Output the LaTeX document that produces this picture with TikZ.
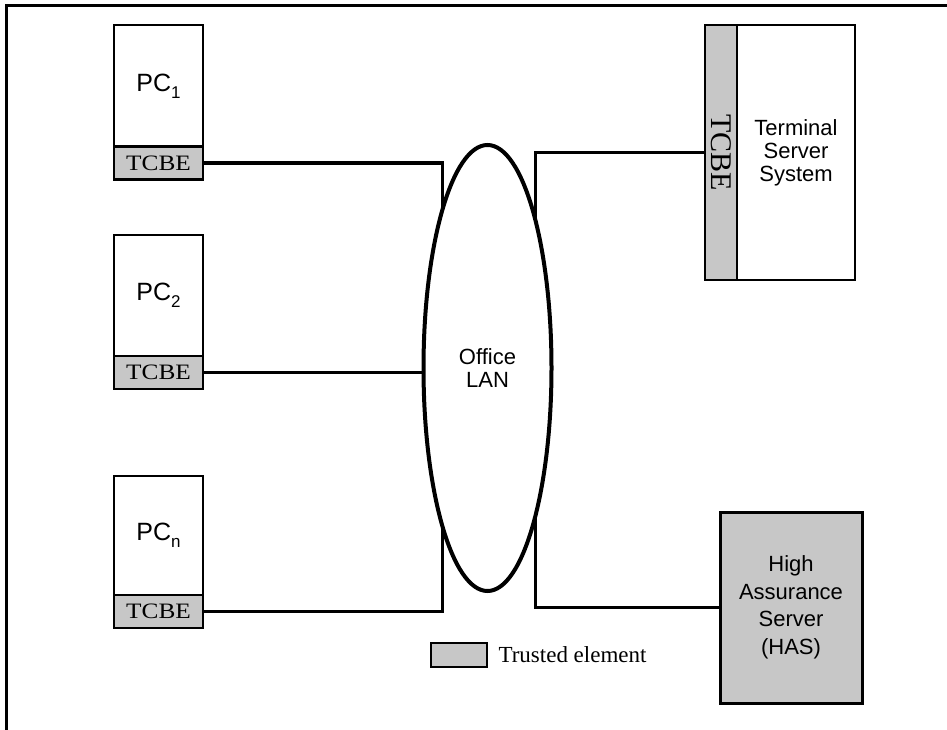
\documentclass[tikz,border=0pt]{standalone}
\usepackage{fontspec}
\setmainfont{Liberation Sans}
\newfontfamily\tcbefont{Liberation Serif}
\usetikzlibrary{shapes.geometric, positioning}

\newcommand{\pcidx}[1]{PC\raisebox{-0.5ex}{\fontsize{17}{17}\selectfont #1}}

\begin{document}
\begin{tikzpicture}[x=1pt, y=-1pt,
      pcbox/.style={rectangle, draw, line width=2pt, outer sep=0pt,
                    minimum width=89pt, minimum height=121pt,
                    font=\fontsize{25}{26}\selectfont},
      tcbe/.style={rectangle, draw, line width=2.5pt, outer sep=0pt,
                   fill=black!22, minimum width=89pt, minimum height=33pt,
                   inner sep=0pt, font=\tcbefont\fontsize{22}{22}\selectfont},
      srvbox/.style={rectangle, draw, line width=2pt, outer sep=0pt,
                     align=center, inner sep=0pt},
      link/.style={line width=3.5pt},
      ]
    \useasboundingbox (0,0) rectangle (947,730);
    % frame
    \draw[line width=3pt] (6,730) -- (6,6) -- (947,6);

    % PCs with their TCBEs
    \node[pcbox] (pc1) at (158.5,86) {\pcidx{1}};
    \node[tcbe, below=0pt of pc1] (pc1t) {\scalebox{1.15}[1]{TCBE}};
    \node[pcbox] (pc2) at (158.5,295.5) {\pcidx{2}};
    \node[tcbe, below=0pt of pc2] (pc2t) {\scalebox{1.15}[1]{TCBE}};
    \node[pcbox, minimum height=119pt] (pcn) at (158.5,535.5) {\pcidx{n}};
    \node[tcbe, below=0pt of pcn] (pcnt) {\scalebox{1.15}[1]{TCBE}};

    % LAN
    \node[ellipse, draw, line width=4pt, outer sep=0pt, inner sep=0pt,
          minimum width=128pt, minimum height=446pt, align=center,
          font=\fontsize{22}{23}\selectfont] (lan) at (487.5,368) {Office\\LAN};

    % servers
    \node[tcbe, minimum width=32pt, minimum height=255pt] (tstcbe) at (721,152.5) {};
    \node[rotate=-90, inner sep=0pt, font=\tcbefont\fontsize{30}{30}\selectfont]
         (tstcbetext) at (tstcbe) {TCBE};
    \node[srvbox, minimum width=118pt, minimum height=255pt, right=0pt of tstcbe,
          font=\fontsize{22}{23}\selectfont] (ts) {Terminal\\Server\\System};
    \node[srvbox, fill=black!22, line width=3pt, minimum width=142pt,
          minimum height=191pt, font=\fontsize{22}{27.5}\selectfont]
         (has) at (791,607.5) {High\\Assurance\\Server\\(HAS)};

    % legend
    \node[tcbe, minimum width=56pt, minimum height=24pt] (key) at (459,655) {};
    \node[right=8pt of key, font=\tcbefont\fontsize{23}{23}\selectfont] (keytext) {Trusted element};

    \draw[link] (pc1t.east) -| (lan.106);
    \draw[link] (pc2t.east) -- (pc2t.east -| lan.west);
    \draw[link] (pcnt.east) -| (lan.-106);
    \draw[link] (lan.72) |- (tstcbe.west);
    \draw[link] (lan.-72) |- (has.west);
\end{tikzpicture}
\end{document}
